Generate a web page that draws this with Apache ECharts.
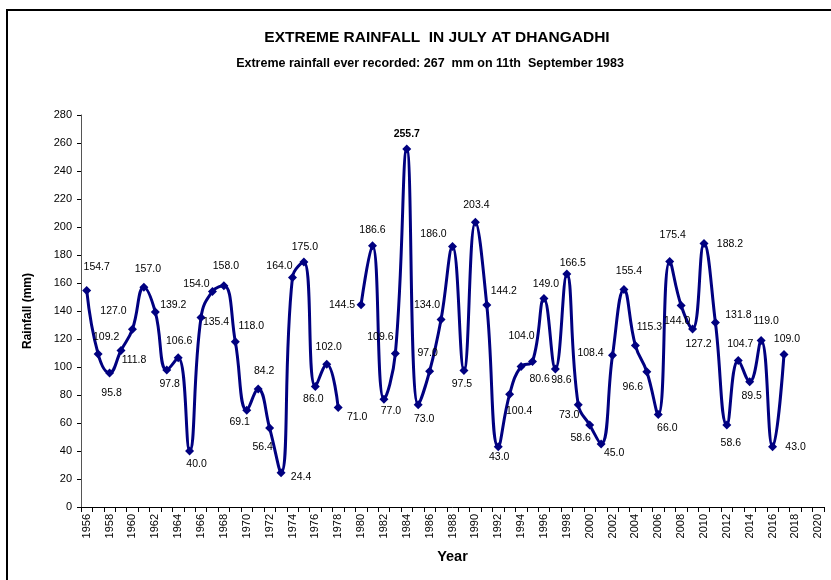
<!DOCTYPE html>
<html>
<head>
<meta charset="utf-8">
<script src="https://cdn.jsdelivr.net/npm/echarts@6/dist/echarts.min.js"></script>
<style>
  html, body { margin: 0; padding: 0; background: #fff; }
  #chart { width: 831px; height: 580px; }
</style>
</head>
<body>
<div id="chart"></div>
<script>
// Years shown on the axis (1956-2020)
const years = [];
for (let y = 1956; y <= 2020; y++) years.push(String(y));

// Maximum July rainfall (mm) per year from 1956; null = no record
const rainfall = [
  154.7, 109.2, 95.8, 111.8, 127.0, 157.0, 139.2, 97.8, 106.6, 40.0,   // 1956-1965
  135.4, 154.0, 158.0, 118.0, 69.1, 84.2, 56.4, 24.4, 164.0, 175.0,    // 1966-1975
  86.0, 102.0, 71.0, null, 144.5, 186.6, 77.0, 109.6, 255.7, 73.0,     // 1976-1985
  97.0, 134.0, 186.0, 97.5, 203.4, 144.2, 43.0, 80.6, 100.4, 104.0,    // 1986-1995
  149.0, 98.6, 166.5, 73.0, 58.6, 45.0, 108.4, 155.4, 115.3, 96.6,     // 1996-2005
  66.0, 175.4, 144.0, 127.2, 188.2, 131.8, 58.6, 104.7, 89.5, 119.0,   // 2006-2015
  43.0, 109.0                                                          // 2016-2017
];

// Value-axis ticks
const yMin = 0, yMax = 280, yStep = 20;

// Pixel offset of each value label from its marker
const labelOffsets = [
  [10, -23], [8, -17], [2, 20], [13, 10], [-19, -18], [4, -18], [18, -7], [3, 14], [1, -17], [7, 13],
  [15, 5], [-16, -7], [2, -20], [16, -16], [-7, 12], [6, -18], [-7, 19], [20, 4], [-13, -11], [1, -15],
  [-2, 13], [2, -17], [19, 10], null, [-19, 0], [0, -16], [7, 12], [-15, -16], [0, -15], [6, 14],
  [-2, -18], [-14, -14], [-19, -12], [-2, 14], [1, -17], [17, -14], [1, 10], [30, -15], [-2, 45], [-11, -25],
  [2, -14], [6, 11], [6, -11], [-9, 10], [-9, 13], [13, 9], [-22, -2], [5, -18], [14, -18], [-14, 15],
  [9, 14], [3, -26], [-4, 16], [6, 15], [26, 1], [23, -7], [4, 18], [2, -16], [2, 14], [5, -19],
  [23, 0], [3, -15]
];

const peak = Math.max(...rainfall.filter(v => v !== null));

const seriesData = rainfall.map((v, i) => {
  if (v === null) return null;
  const off = labelOffsets[i] || [0, -14];
  return {
    value: v,
    label: {
      offset: off,
      fontWeight: v === peak ? 'bold' : 'normal'
    }
  };
});

const FONT = 'Liberation Sans, Arial, sans-serif';
const NARROW = '"Liberation Sans Narrow", "Arial Narrow", "Liberation Sans", Arial, sans-serif';

const chart = echarts.init(document.getElementById('chart'), null, { renderer: 'canvas' });

chart.setOption({
  backgroundColor: '#ffffff',
  animation: false,
  title: [
    {
      text: 'EXTREME RAINFALL  IN JULY AT DHANGADHI',
      left: 432, top: 25, textAlign: 'center',
      textStyle: { fontFamily: NARROW, fontSize: 15.5, fontWeight: 'bold', color: '#000' }
    },
    {
      text: 'Extreme rainfall ever recorded: 267  mm on 11th  September 1983',
      left: 425, top: 52, textAlign: 'center',
      textStyle: { fontFamily: NARROW, fontSize: 12.5, fontWeight: 'bold', color: '#000' }
    }
  ],
  graphic: [
    {
      type: 'rect',
      shape: { x: 7, y: 10, width: 1000, height: 800 },
      style: { fill: 'none', stroke: '#000', lineWidth: 2 },
      silent: true
    }
  ],
  grid: { left: 81, right: 7, top: 115, bottom: 73, containLabel: false },
  xAxis: {
    type: 'category',
    data: years,
    boundaryGap: true,
    name: 'Year',
    nameLocation: 'middle',
    nameGap: 42,
    nameTextStyle: { fontFamily: NARROW, fontSize: 14.5, fontWeight: 'bold', color: '#000' },
    axisLine: { lineStyle: { color: '#000', width: 1 } },
    axisTick: { show: true, interval: 0, length: 5, lineStyle: { color: '#000' } },
    axisLabel: {
      interval: 1,
      rotate: 90,
      margin: 7,
      fontFamily: FONT,
      fontSize: 11,
      color: '#000'
    },
    splitLine: { show: false }
  },
  yAxis: {
    type: 'value',
    min: yMin, max: yMax, interval: yStep,
    name: 'Rainfall (mm)',
    nameLocation: 'middle',
    nameGap: 47,
    nameRotate: 90,
    nameTextStyle: { fontFamily: FONT, fontSize: 12, fontWeight: 'bold', color: '#000' },
    axisLine: { show: true, lineStyle: { color: '#555', width: 1 } },
    axisTick: { show: true, length: 4, lineStyle: { color: '#000' } },
    axisLabel: { fontFamily: FONT, fontSize: 11, color: '#000', margin: 9 },
    splitLine: { show: false }
  },
  series: [
    {
      type: 'line',
      data: seriesData,
      smooth: 0.45,
      connectNulls: false,
      showSymbol: true,
      showAllSymbol: true,
      symbol: 'diamond',
      symbolSize: 9,
      lineStyle: { color: '#000080', width: 3 },
      itemStyle: { color: '#000080' },
      label: {
        show: true,
        position: 'inside',
        formatter: p => p.value.toFixed(1),
        fontFamily: FONT,
        fontSize: 10.5,
        color: '#000',
        align: 'center',
        verticalAlign: 'middle'
      }
    }
  ]
});
</script>
</body>
</html>
